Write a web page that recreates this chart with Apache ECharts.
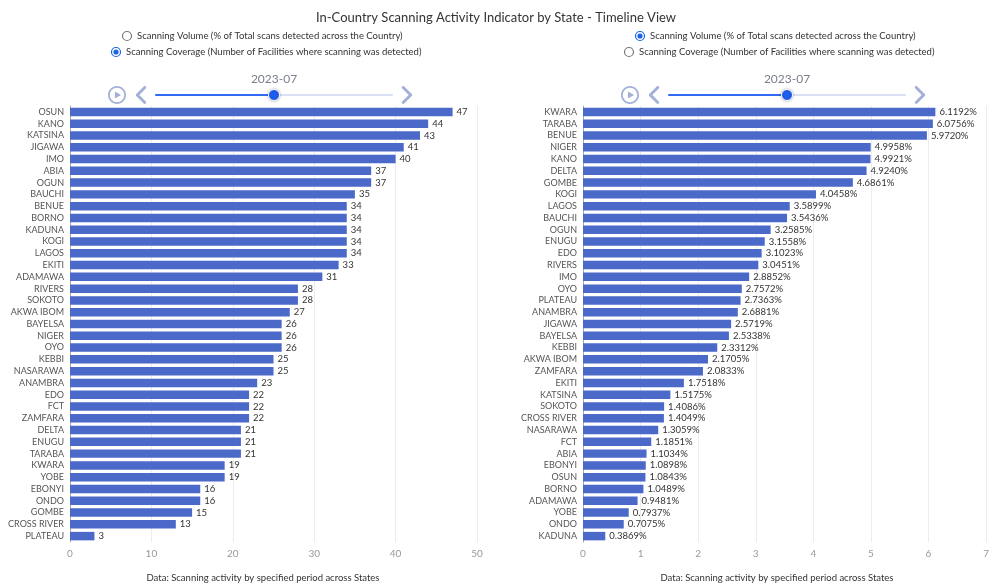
<!DOCTYPE html>
<html>
<head>
<meta charset="utf-8">
<script src="https://cdn.jsdelivr.net/npm/echarts@6/dist/echarts.min.js"></script>
<style>
  html, body { margin: 0; padding: 0; background: #fff; }
  #wrap { position: relative; width: 992px; height: 585px; }
  .pane { position: absolute; left: 0; top: 0; width: 992px; height: 585px; }
</style>
</head>
<body>
<div id="wrap">
  <div id="left" class="pane"></div>
  <div id="right" class="pane"></div>
</div>
<script>
var FONT = 'Lato, "Open Sans", sans-serif';
var BAR = '#4a69c9';

// timeline periods
var periods = ['2023-01','2023-02','2023-03','2023-04','2023-05','2023-06','2023-07',
               '2023-08','2023-09','2023-10','2023-11','2023-12','2024-01'];
var currentPeriod = 6;

// coverage: number of facilities where scanning was detected
var coverageStates = ['OSUN','KANO','KATSINA','JIGAWA','IMO','ABIA','OGUN','BAUCHI','BENUE','BORNO',
  'KADUNA','KOGI','LAGOS','EKITI','ADAMAWA','RIVERS','SOKOTO','AKWA IBOM','BAYELSA','NIGER',
  'OYO','KEBBI','NASARAWA','ANAMBRA','EDO','FCT','ZAMFARA','DELTA','ENUGU','TARABA',
  'KWARA','YOBE','EBONYI','ONDO','GOMBE','CROSS RIVER','PLATEAU'];
var coverageValues = [47,44,43,41,40,37,37,35,34,34,
  34,34,34,33,31,28,28,27,26,26,
  26,25,25,23,22,22,22,21,21,21,
  19,19,16,16,15,13,3];

// volume: % of total scans detected across the country
var volumeStates = ['KWARA','TARABA','BENUE','NIGER','KANO','DELTA','GOMBE','KOGI','LAGOS','BAUCHI',
  'OGUN','ENUGU','EDO','RIVERS','IMO','OYO','PLATEAU','ANAMBRA','JIGAWA','BAYELSA',
  'KEBBI','AKWA IBOM','ZAMFARA','EKITI','KATSINA','SOKOTO','CROSS RIVER','NASARAWA','FCT','ABIA',
  'EBONYI','OSUN','BORNO','ADAMAWA','YOBE','ONDO','KADUNA'];
var volumeValues = [6.1192,6.0756,5.9720,4.9958,4.9921,4.9240,4.6861,4.0458,3.5899,3.5436,
  3.2585,3.1558,3.1023,3.0451,2.8852,2.7572,2.7363,2.6881,2.5719,2.5338,
  2.3312,2.1705,2.0833,1.7518,1.5175,1.4086,1.4049,1.3059,1.1851,1.1034,
  1.0898,1.0843,1.0489,0.9481,0.7937,0.7075,0.3869];

var radioLabels = [
  'Scanning Volume (% of Total scans detected across the Country)',
  'Scanning Coverage (Number of Facilities where scanning was detected)'
];
var footerText = 'Data: Scanning activity by specified period across States';

function radio(cx, cy, checked) {
  var els = [{
    type: 'circle', shape: { cx: cx, cy: cy, r: 4.5 },
    style: { fill: '#fff', stroke: checked ? '#1a66e0' : '#767676', lineWidth: 1.2 }
  }];
  if (checked) {
    els.push({ type: 'circle', shape: { cx: cx, cy: cy, r: 2.6 }, style: { fill: '#1a66e0' } });
  }
  return els;
}

function label(x, y, text, align) {
  return {
    type: 'text', x: x, y: y,
    style: { text: text, fill: '#333', font: '9.5px ' + FONT, textAlign: align || 'left', textVerticalAlign: 'middle' }
  };
}

function timeline(x) {
  return {
    axisType: 'category',
    data: periods,
    currentIndex: currentPeriod,
    autoPlay: false,
    left: x, width: 308, top: 70, height: 34, padding: 0,
    symbol: 'circle', symbolSize: 6,
    itemStyle: { color: 'transparent', borderWidth: 0 },
    lineStyle: { color: '#dae1f5', width: 2 },
    progress: { lineStyle: { color: '#316bf3' }, itemStyle: { color: 'transparent', borderWidth: 0 },
      label: { color: '#7a7f8c' } },
    checkpointStyle: { color: '#1e5ef0', symbolSize: 11, borderColor: '#fff', borderWidth: 1,
      shadowBlur: 3, shadowColor: 'rgba(0,0,0,0.3)', animation: false },
    controlStyle: { itemSize: 18, itemGap: 6, color: '#a4b1d7', borderColor: '#a4b1d7' },
    label: {
      position: -10, interval: 0, color: '#7a7f8c', fontSize: 10, fontFamily: FONT,
      formatter: function (v, i) { return i === currentPeriod ? v : ''; }
    }
  };
}

function barOption(states, values, gridLeft, gridRight, max, fmt) {
  return {
    animation: false,
    textStyle: { fontFamily: FONT },
    grid: { left: gridLeft, right: gridRight, top: 106, bottom: 43 },
    xAxis: {
      type: 'value', min: 0, max: max, interval: max > 10 ? 10 : 1,
      axisLabel: { color: '#999', fontSize: 10, margin: 7 },
      splitLine: { lineStyle: { color: '#ececec' } }
    },
    yAxis: {
      type: 'category', data: states, inverse: true,
      axisLine: { lineStyle: { color: '#aaa' } },
      axisTick: { length: 4, lineStyle: { color: '#aaa' } },
      axisLabel: { color: '#555', fontSize: 9, margin: 6, interval: 0 }
    },
    series: [{
      type: 'bar', data: values, barCategoryGap: '28%',
      itemStyle: { color: BAR },
      label: { show: true, position: 'right', distance: 4, color: '#333', fontSize: 9.5, formatter: fmt }
    }]
  };
}

var left = echarts.init(document.getElementById('left'));
var leftOpt = barOption(coverageStates, coverageValues, 70, 515, 50, function (p) { return p.value; });
leftOpt.timeline = timeline(108);
leftOpt.title = {
  text: 'In-Country Scanning Activity Indicator by State - Timeline View',
  left: 'center', top: 6,
  textStyle: { fontSize: 13, fontWeight: 'normal', color: '#333', fontFamily: FONT }
};
leftOpt.graphic = [].concat(
  radio(127, 36, false), radio(116, 52, true),
  [label(137, 36, radioLabels[0]), label(126, 52, radioLabels[1]), label(263, 578, footerText, 'center')]
);
left.setOption({ baseOption: leftOpt, options: periods.map(function () { return {}; }) });

var right = echarts.init(document.getElementById('right'));
var rightOpt = barOption(volumeStates, volumeValues, 583, 2, 7, function (p) { return p.value.toFixed(4) + '%'; });
rightOpt.timeline = timeline(621);
rightOpt.graphic = [].concat(
  radio(640, 36, true), radio(629, 52, false),
  [label(650, 36, radioLabels[0]), label(639, 52, radioLabels[1]), label(777, 578, footerText, 'center')]
);
right.setOption({ baseOption: rightOpt, options: periods.map(function () { return {}; }) });
</script>
</body>
</html>
